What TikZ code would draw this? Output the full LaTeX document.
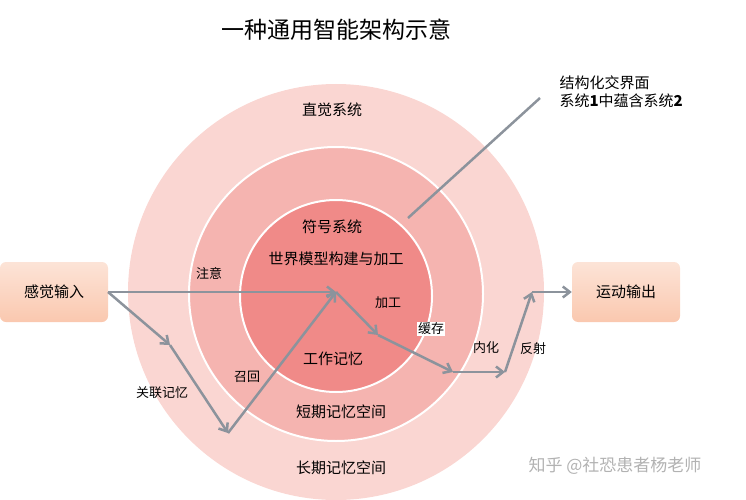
\documentclass[tikz,border=0pt]{standalone}
\usepackage{fontspec}
\setmainfont{Noto Sans CJK SC}
\usetikzlibrary{arrows.meta, positioning}
\definecolor{outerpink}{RGB}{250,214,210}
\definecolor{midpink}{RGB}{245,180,176}
\definecolor{innerpink}{RGB}{240,138,136}
\definecolor{arrowgray}{RGB}{140,147,156}
\definecolor{boxpeach}{RGB}{250,200,175}
\tikzset{iobox/.style={rectangle, rounded corners=6pt, minimum width=108pt, minimum height=60pt, top color=boxpeach!50, bottom color=boxpeach, draw=none, font=\fontsize{15}{18}\selectfont},
flowarrow/.style={draw=arrowgray, line width=2.5pt, -{Straight Barb[length=7pt, width=11pt]}},
ringlabel/.style={font=\fontsize{15}{18}\selectfont}}
\begin{document}
\begin{tikzpicture}[x=1pt, y=-1pt]
        \useasboundingbox (0,0) rectangle (746,500);
        % Rings
        \fill[outerpink] (336,292) circle (208);
        \filldraw[midpink, draw=white, line width=2pt] (336,294) circle (147);
        \filldraw[innerpink, draw=white, line width=2pt] (336,296) circle (96);
        % Title and notes
        \node[font=\fontsize{23}{26}\selectfont] (title) at (336,30) {一种通用智能架构示意};
        \node[ringlabel, anchor=west, align=left] (note) at (556,92) {结构化交界面\\系统\textbf{1}中蕴含系统\textbf{2}};
        \coordinate (noteend) at (540,98);
        \coordinate (notestart) at (408,218);
        \draw[arrowgray, line width=2.5pt] (notestart) -- (noteend);
        % Ring labels
        \node[ringlabel] (intuit) at (332,110) {直觉系统};
        \node[ringlabel] (symbol) at (332,227) {符号系统};
        \node[ringlabel] (world) at (336,259) {世界模型构建与加工};
        \node[ringlabel] (work) at (333,359) {工作记忆};
        \node[ringlabel] (short) at (341,412) {短期记忆空间};
        \node[ringlabel] (long) at (341,468) {长期记忆空间};
        % Boxes
        \node[iobox] (input) at (54,292) {感觉输入};
        \node[iobox] (output) at (626,292) {运动输出};
        % Path points
        \coordinate (src) at (108,292);
        \coordinate (hub) at (336,292);
        \coordinate (assoc) at (170,345);
        \coordinate (low) at (228,433);
        \coordinate (proc) at (378,335);
        \coordinate (cache) at (453,372);
        \coordinate (intern) at (505,372);
        \coordinate (react) at (532,292);
        % Arrows
        \draw[flowarrow] (src) -- (hub);
        \draw[flowarrow] (src) -- (assoc);
        \draw[flowarrow] (assoc) -- (low);
        \draw[flowarrow] (low) -- (hub);
        \draw[flowarrow] (hub) -- (proc);
        \draw[flowarrow] (proc) -- (cache);
        \draw[flowarrow] (cache) -- (intern);
        \draw[flowarrow] (intern) -- (react);
        \draw[flowarrow] (react) -- (output.west);
        % Arrow labels
        \node[ringlabel, font=\fontsize{13}{15}\selectfont] (attn) at (209,273) {注意};
        \node[ringlabel, font=\fontsize{13}{15}\selectfont] (jg) at (388,303) {加工};
        \node[ringlabel, font=\fontsize{13}{15}\selectfont, fill=white, inner sep=1pt] (hc) at (431,329) {缓存};
        \node[ringlabel, font=\fontsize{13}{15}\selectfont] (nh) at (486,348) {内化};
        \node[ringlabel, font=\fontsize{13}{15}\selectfont] (fs) at (533,349) {反射};
        \node[ringlabel, font=\fontsize{13}{15}\selectfont] (zh) at (247,377) {召回};
        \node[ringlabel, font=\fontsize{13}{15}\selectfont] (gl) at (162,393) {关联记忆};
        % Watermark
        \node[font=\fontsize{17}{20}\selectfont, text=gray!60] (mark) at (615,466) {知乎 @社恐患者杨老师};
    \end{tikzpicture}
\end{document}
